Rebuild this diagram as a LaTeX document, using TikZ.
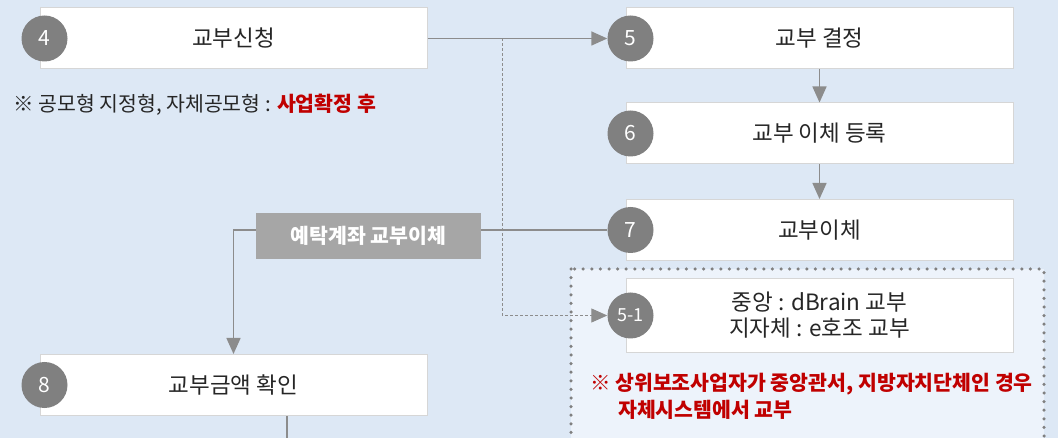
\documentclass[tikz,border=0pt]{standalone}
\usepackage{fontspec}
\setmainfont{Noto Sans CJK KR}
\usepackage{xcolor}
\usetikzlibrary{positioning, calc, arrows.meta}

\definecolor{bgblue}{RGB}{221,232,245}
\definecolor{grpblue}{RGB}{237,243,251}
\definecolor{numgray}{RGB}{128,128,128}
\definecolor{linegray}{RGB}{140,140,140}
\definecolor{boxline}{RGB}{214,214,214}
\definecolor{tagray}{RGB}{166,166,166}
\definecolor{notered}{RGB}{192,0,0}
\definecolor{txtdark}{RGB}{38,38,38}

\begin{document}
\begin{tikzpicture}[
		x=1pt, y=1pt,
		>={Triangle[length=16pt,width=14pt]},
		stepbox/.style={draw=boxline, line width=1pt, fill=white, minimum width=387pt, minimum height=61pt, text=txtdark, align=center, font=\fontsize{22.5}{26}\selectfont},
		num/.style={circle, fill=numgray, text=white, minimum size=46pt, inner sep=0pt, font=\fontsize{21}{24}\selectfont},
		flow/.style={draw=linegray, line width=1.5pt},
		branch/.style={draw=linegray, line width=1pt, dash pattern=on 3pt off 2pt},
		tag/.style={fill=tagray, text=white, minimum width=225pt, minimum height=46pt, font=\fontsize{20.5}{24}\selectfont\bfseries},
		note/.style={anchor=west, inner sep=0pt, text=txtdark, font=\fontsize{20.5}{27}\selectfont}
		]
		
		% ==========================================
		% CANVAS
		% ==========================================
		\useasboundingbox (0,0) rectangle (1058,-438);
		\fill[bgblue] (0,0) rectangle (1058,-438);
		
		% dotted group round 5-1
		\draw[fill=grpblue, draw=numgray, line width=3.5pt, line cap=round, dash pattern=on 0pt off 8.6pt]
		(571,-269) rectangle (1044,-460);
		
		% ==========================================
		% STEP BOXES
		% ==========================================
		\node[stepbox] (b4) at (233.5,-38.5) {교부신청};
		\node[stepbox, right=198pt of b4] (b5) {교부 결정};
		\node[stepbox, below=33pt of b5] (b6) {교부 이체 등록};
		\node[stepbox, below=34.5pt of b6] (b7) {교부이체};
		\node[stepbox, below=17pt of b7, minimum height=74pt] (b51) {중앙 : dBrain 교부\\지자체 : e호조 교부};
		\node[stepbox, below=284.5pt of b4] (b8) {교부금액 확인};
		
		% Step numbers
		\node[num] (n4) at ([xshift=5pt]b4.west) {4};
		\node[num] (n5) at ([xshift=5pt]b5.west) {5};
		\node[num] (n6) at ([xshift=5pt]b6.west) {6};
		\node[num] (n7) at ([xshift=5pt]b7.west) {7};
		\node[num, font=\fontsize{18}{20}\selectfont] (n51) at ([xshift=5pt]b51.west) {5-1};
		\node[num] (n8) at ([xshift=5pt]b8.west) {8};
		
		% ==========================================
		% CONNECTORS
		% ==========================================
		\draw[flow, ->] (b4.east) -- (n5.west);
		\coordinate (split) at (502,-38.5);
		\draw[branch, ->] (split) |- (n51.west);
		\draw[flow, ->] (b5.south) -- (b6.north);
		\draw[flow, ->] (b6.south) -- (b7.north);
		\draw[flow, ->] (n7.west) -| (b8.north);
		\coordinate (out) at (287,-445);
		\draw[flow] (b8.south -| out) -- (out);
		
		\node[tag] (deposit) at (368.5,-236) {예탁계좌 교부이체};
		
		% ==========================================
		% NOTES
		% ==========================================
		\node[note] (cond) at (13,-105) {※ 공모형 지정형, 자체공모형 : \textcolor{notered}{\bfseries 사업확정 후}};
		\node[note, text=notered, align=left, font=\fontsize{20.5}{27}\selectfont\bfseries] (self) at (590,-396.5)
		{※ 상위보조사업자가 중앙관서, 지방자치단체인 경우\\\hspace*{28pt}자체시스템에서 교부};
		
	\end{tikzpicture}
\end{document}
